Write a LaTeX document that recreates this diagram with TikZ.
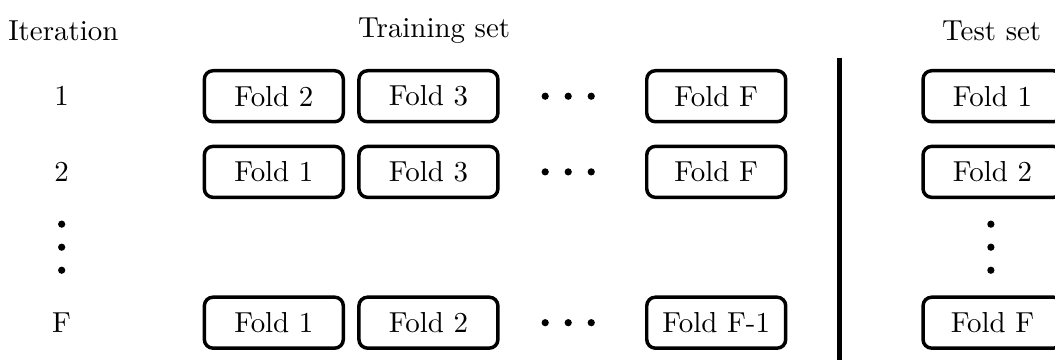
\documentclass[tikz,border=0pt]{standalone}
\usepackage{tikz}
\usetikzlibrary{positioning}

\tikzset{fold/.style={rectangle,rounded corners=3pt,draw=black,very thick,minimum width=1.69cm,minimum height=0.62cm,align=center},
         dotnode/.style={circle,fill=black,inner sep=0pt,minimum size=2.5pt}}

\begin{document}
\begin{tikzpicture}
\useasboundingbox (0,0) rectangle (12.83,4.38);
\node at (0.77,4.01)(it){Iteration};
\node at (5.28,4.01)(tr){Training set};
\node at (12.06,4.01)(te){Test set};

\node at (0.75,3.21)(n1){1};
\node at (0.75,2.29)(n2){2};
\node at (0.75,0.456)(nF){F};
\node at (0.75,1.654)[dotnode](v1){};
\node at (0.75,1.374)[dotnode](v2){};
\node at (0.75,1.094)[dotnode](v3){};

\node at (3.33,3.21)[fold](11){Fold 2};
\node at (5.21,3.21)[fold](12){Fold 3};
\node at (6.63,3.21)[dotnode](1a){};
\node at (6.91,3.21)[dotnode](1b){};
\node at (7.19,3.21)[dotnode](1c){};
\node at (8.71,3.21)[fold](1F){Fold F};

\node at (3.33,2.29)[fold](21){Fold 1};
\node at (5.21,2.29)[fold](22){Fold 3};
\node at (6.63,2.29)[dotnode](2a){};
\node at (6.91,2.29)[dotnode](2b){};
\node at (7.19,2.29)[dotnode](2c){};
\node at (8.71,2.29)[fold](2F){Fold F};

\node at (3.33,0.456)[fold](F1){Fold 1};
\node at (5.21,0.456)[fold](F2){Fold 2};
\node at (6.63,0.456)[dotnode](Fa){};
\node at (6.91,0.456)[dotnode](Fb){};
\node at (7.19,0.456)[dotnode](Fc){};
\node at (8.71,0.456)[fold](FF){Fold F-1};

\coordinate (top) at (10.21,3.67);
\coordinate (bot) at (10.21,0);
\draw[line width=1.5pt] (top) -- (bot);

\node at (12.07,3.21)[fold](1T){Fold 1};
\node at (12.07,2.29)[fold](2T){Fold 2};
\node at (12.05,1.654)[dotnode](w1){};
\node at (12.05,1.374)[dotnode](w2){};
\node at (12.05,1.094)[dotnode](w3){};
\node at (12.07,0.456)[fold](FT){Fold F};
\end{tikzpicture}
\end{document}
